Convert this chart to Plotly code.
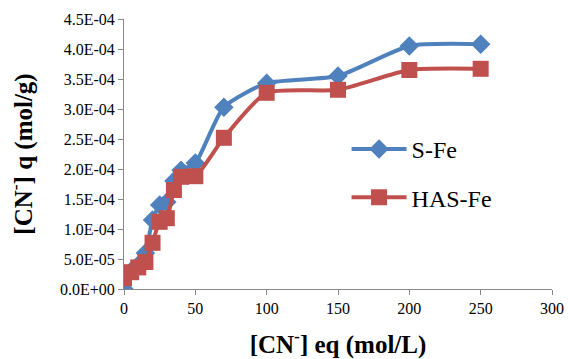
import plotly.graph_objects as go

x_vals = [0, 5, 10, 15, 20, 25, 30, 35, 40, 50, 70, 100, 150, 200, 250]
s_fe = [0.0, 3.0e-5, 4.0e-5, 6.0e-5, 1.15e-4, 1.40e-4, 1.45e-4, 1.80e-4, 1.98e-4, 2.10e-4, 3.03e-4, 3.43e-4, 3.55e-4, 4.05e-4, 4.08e-4]
has_fe = [1.8e-5, 2.8e-5, 3.6e-5, 4.5e-5, 7.7e-5, 1.12e-4, 1.18e-4, 1.65e-4, 1.87e-4, 1.88e-4, 2.52e-4, 3.27e-4, 3.32e-4, 3.65e-4, 3.67e-4]

y_ticks = [0, 5e-5, 1e-4, 1.5e-4, 2e-4, 2.5e-4, 3e-4, 3.5e-4, 4e-4, 4.5e-4]
y_tick_text = ["0.0E+00", "5.0E-05", "1.0E-04", "1.5E-04", "2.0E-04", "2.5E-04", "3.0E-04", "3.5E-04", "4.0E-04", "4.5E-04"]
x_ticks = [0, 50, 100, 150, 200, 250, 300]

font = "Liberation Serif, serif"

fig = go.Figure()
fig.add_trace(go.Scatter(x=x_vals, y=s_fe, name="S-Fe", mode="lines+markers", legendgroup="a",
                         line=dict(color="#4F81BD", width=4, shape="spline", smoothing=0.6),
                         marker=dict(symbol="diamond", size=15, color="#4F81BD")))
fig.add_trace(go.Scatter(x=x_vals, y=has_fe, name="HAS-Fe", mode="lines+markers", legendgroup="b",
                         line=dict(color="#C0504D", width=4, shape="spline", smoothing=0.6),
                         marker=dict(symbol="square", size=16, color="#C0504D")))

fig.update_layout(
    width=568, height=359,
    margin=dict(l=124, r=16, t=19, b=70),
    paper_bgcolor="white", plot_bgcolor="white",
    font=dict(family=font, color="black", size=16),
    legend=dict(x=0.52, y=0.6, xanchor="left", yanchor="top",
                font=dict(size=24, family=font), bgcolor="rgba(0,0,0,0)",
                tracegroupgap=14, itemwidth=55),
    xaxis=dict(range=[0, 300], tickvals=x_ticks, showgrid=False, zeroline=False,
               showline=True, linecolor="#888888", linewidth=1,
               ticks="outside", tickcolor="#888888", ticklen=5,
               tickfont=dict(size=16, family=font),
               title=dict(text="<b>[CN<sup>-</sup>] eq (mol/L)</b>", font=dict(size=25, family=font), standoff=19)),
    yaxis=dict(range=[0, 4.5e-4], tickvals=y_ticks, ticktext=y_tick_text, showgrid=False, zeroline=False,
               showline=True, linecolor="#888888", linewidth=1,
               ticks="outside", tickcolor="#888888", ticklen=5,
               tickfont=dict(size=16, family=font),
               title=dict(text="<b>[CN<sup>-</sup>] q (mol/g)</b>", font=dict(size=25, family=font), standoff=20)),
)
fig.update_xaxes(automargin=False)
fig.update_yaxes(automargin=False)
fig.write_html("out.html", config={"displayModeBar": False},
               post_script="document.body.style.margin='0';document.body.style.padding='0';")
